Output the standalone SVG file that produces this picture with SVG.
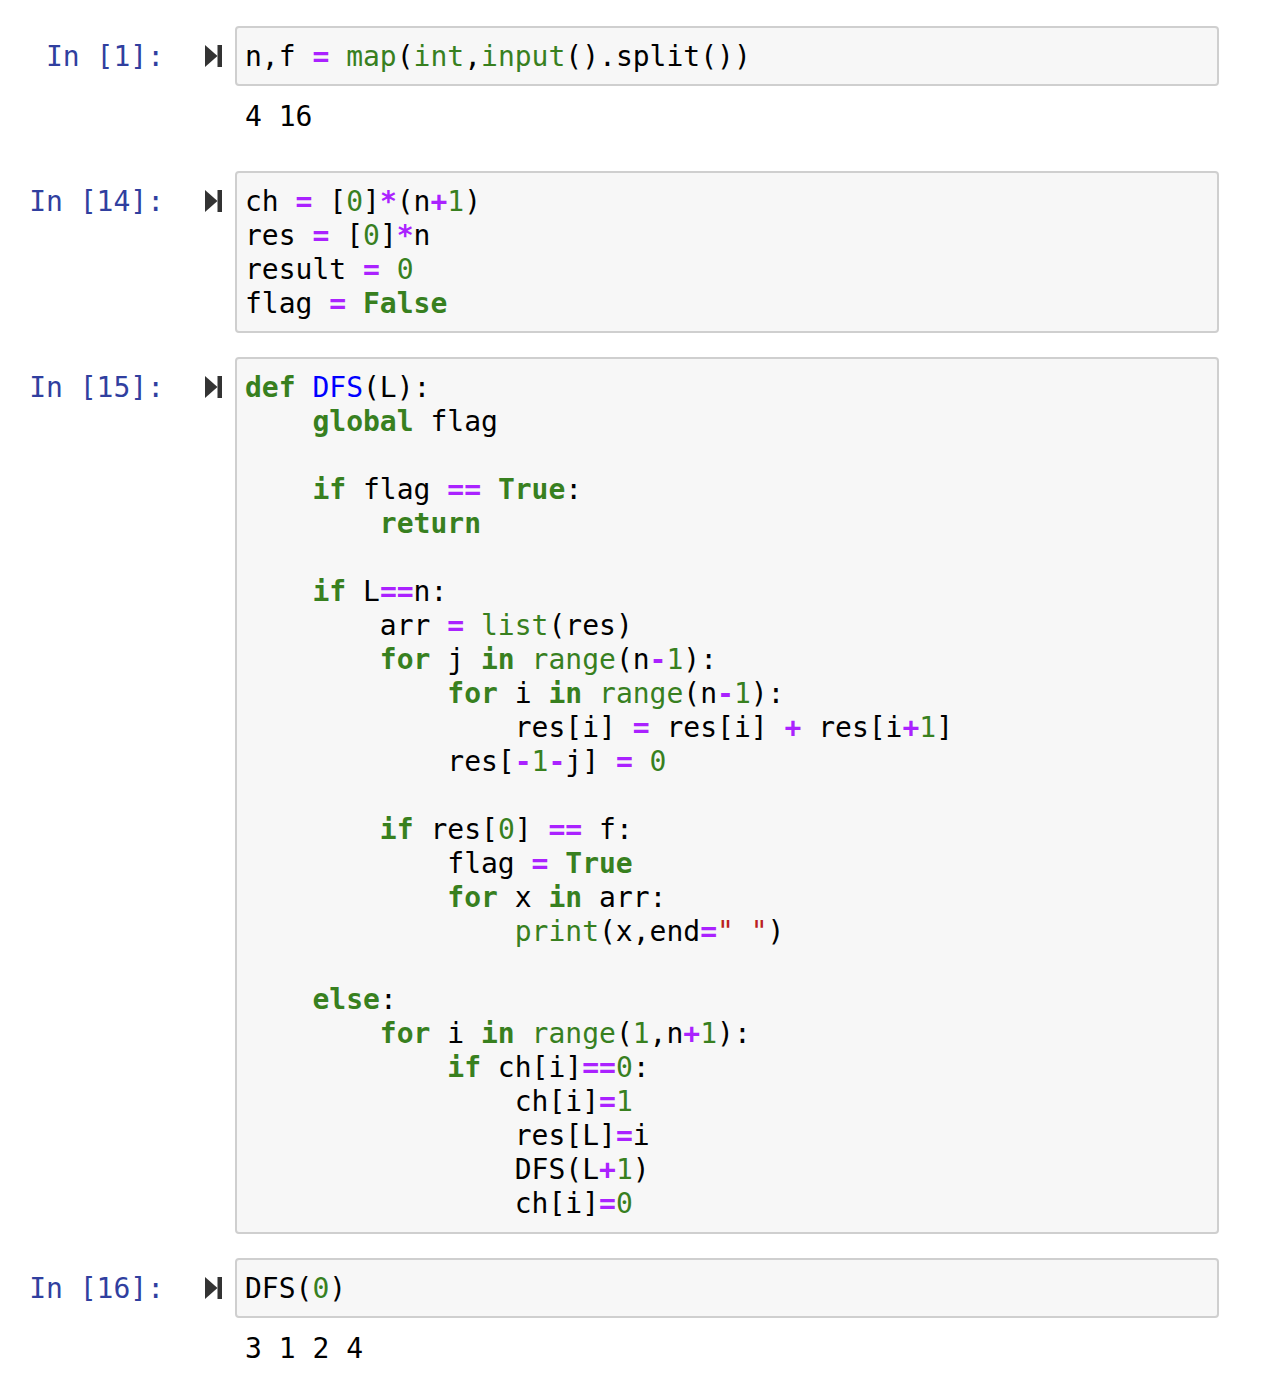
<svg xmlns="http://www.w3.org/2000/svg" width="1261" height="1387" viewBox="0 0 1261 1387">
<style>
text{font-family:"DejaVu Sans Mono","Liberation Mono",monospace;font-size:28px;fill:#000;white-space:pre}
.p{fill:#303f9f}
.k{fill:#38801f;font-weight:bold}
.b{fill:#38801f}
.n{fill:#38801f}
.o{fill:#aa22ff;font-weight:bold}
.d{fill:#0000ff}
.s{fill:#ba2121}
.box{fill:#f7f7f7;stroke:#cfcfcf;stroke-width:2}
.run{fill:#333}
</style>
<defs>
<g id="runicon"><path class="run" d="M205,-11 L217.5,0 L205,11 Z"/><rect class="run" x="217.5" y="-11" width="4.5" height="22"/></g>
</defs>
<rect width="1261" height="1387" fill="#fff"/>

<g id="cell1">
<text class="p" x="164" y="66" text-anchor="end">In [1]:</text>
<use href="#runicon" y="56"/>
<rect class="box" x="236" y="27" width="982" height="58" rx="3"/>
<text x="245" y="66" xml:space="preserve">n,f <tspan class="o">=</tspan> <tspan class="b">map</tspan>(<tspan class="b">int</tspan>,<tspan class="b">input</tspan>().split())</text>
<text x="245" y="126" xml:space="preserve">4 16</text>
</g>

<g id="cell2">
<text class="p" x="164" y="211" text-anchor="end">In [14]:</text>
<use href="#runicon" y="201"/>
<rect class="box" x="236" y="172" width="982" height="160" rx="3"/>
<text x="245" y="211" xml:space="preserve">ch <tspan class="o">=</tspan> [<tspan class="n">0</tspan>]<tspan class="o">*</tspan>(n<tspan class="o">+</tspan><tspan class="n">1</tspan>)</text>
<text x="245" y="245" xml:space="preserve">res <tspan class="o">=</tspan> [<tspan class="n">0</tspan>]<tspan class="o">*</tspan>n</text>
<text x="245" y="279" xml:space="preserve">result <tspan class="o">=</tspan> <tspan class="n">0</tspan></text>
<text x="245" y="313" xml:space="preserve">flag <tspan class="o">=</tspan> <tspan class="k">False</tspan></text>
</g>

<g id="cell3">
<text class="p" x="164" y="397" text-anchor="end">In [15]:</text>
<use href="#runicon" y="387"/>
<rect class="box" x="236" y="358" width="982" height="875" rx="3"/>
<text x="245" y="397" xml:space="preserve"><tspan class="k">def</tspan> <tspan class="d">DFS</tspan>(L):</text>
<text x="245" y="431" xml:space="preserve">    <tspan class="k">global</tspan> flag</text>
<text x="245" y="499" xml:space="preserve">    <tspan class="k">if</tspan> flag <tspan class="o">==</tspan> <tspan class="k">True</tspan>:</text>
<text x="245" y="533" xml:space="preserve">        <tspan class="k">return</tspan></text>
<text x="245" y="601" xml:space="preserve">    <tspan class="k">if</tspan> L<tspan class="o">==</tspan>n:</text>
<text x="245" y="635" xml:space="preserve">        arr <tspan class="o">=</tspan> <tspan class="b">list</tspan>(res)</text>
<text x="245" y="669" xml:space="preserve">        <tspan class="k">for</tspan> j <tspan class="k">in</tspan> <tspan class="b">range</tspan>(n<tspan class="o">-</tspan><tspan class="n">1</tspan>):</text>
<text x="245" y="703" xml:space="preserve">            <tspan class="k">for</tspan> i <tspan class="k">in</tspan> <tspan class="b">range</tspan>(n<tspan class="o">-</tspan><tspan class="n">1</tspan>):</text>
<text x="245" y="737" xml:space="preserve">                res[i] <tspan class="o">=</tspan> res[i] <tspan class="o">+</tspan> res[i<tspan class="o">+</tspan><tspan class="n">1</tspan>]</text>
<text x="245" y="771" xml:space="preserve">            res[<tspan class="o">-</tspan><tspan class="n">1</tspan><tspan class="o">-</tspan>j] <tspan class="o">=</tspan> <tspan class="n">0</tspan></text>
<text x="245" y="839" xml:space="preserve">        <tspan class="k">if</tspan> res[<tspan class="n">0</tspan>] <tspan class="o">==</tspan> f:</text>
<text x="245" y="873" xml:space="preserve">            flag <tspan class="o">=</tspan> <tspan class="k">True</tspan></text>
<text x="245" y="907" xml:space="preserve">            <tspan class="k">for</tspan> x <tspan class="k">in</tspan> arr:</text>
<text x="245" y="941" xml:space="preserve">                <tspan class="b">print</tspan>(x,end<tspan class="o">=</tspan><tspan class="s">" "</tspan>)</text>
<text x="245" y="1009" xml:space="preserve">    <tspan class="k">else</tspan>:</text>
<text x="245" y="1043" xml:space="preserve">        <tspan class="k">for</tspan> i <tspan class="k">in</tspan> <tspan class="b">range</tspan>(<tspan class="n">1</tspan>,n<tspan class="o">+</tspan><tspan class="n">1</tspan>):</text>
<text x="245" y="1077" xml:space="preserve">            <tspan class="k">if</tspan> ch[i]<tspan class="o">==</tspan><tspan class="n">0</tspan>:</text>
<text x="245" y="1111" xml:space="preserve">                ch[i]<tspan class="o">=</tspan><tspan class="n">1</tspan></text>
<text x="245" y="1145" xml:space="preserve">                res[L]<tspan class="o">=</tspan>i</text>
<text x="245" y="1179" xml:space="preserve">                DFS(L<tspan class="o">+</tspan><tspan class="n">1</tspan>)</text>
<text x="245" y="1213" xml:space="preserve">                ch[i]<tspan class="o">=</tspan><tspan class="n">0</tspan></text>
</g>

<g id="cell4">
<text class="p" x="164" y="1298" text-anchor="end">In [16]:</text>
<use href="#runicon" y="1288"/>
<rect class="box" x="236" y="1259" width="982" height="58" rx="3"/>
<text x="245" y="1298" xml:space="preserve">DFS(<tspan class="n">0</tspan>)</text>
<text x="245" y="1358" xml:space="preserve">3 1 2 4</text>
</g>

<g id="connectors"></g>
</svg>
